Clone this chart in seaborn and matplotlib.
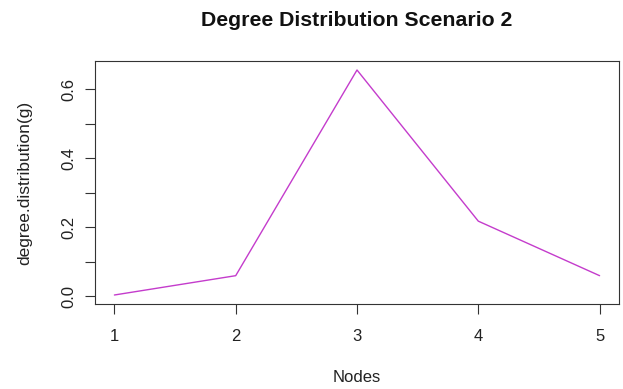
import matplotlib
matplotlib.use("Agg")
import matplotlib.pyplot as plt
import seaborn as sns
import pandas as pd
import numpy as np

nodes = [1, 2, 3, 4, 5]
degree_dist = [0.004, 0.060, 0.656, 0.218, 0.060]
x_ticks = [1, 2, 3, 4, 5]
y_ticks = [0.0, 0.1, 0.2, 0.3, 0.4, 0.5, 0.6]
y_labels = ["0.0", "", "0.2", "", "0.4", "", "0.6"]

sns.set_style("white")
plt.rcParams['font.family'] = ['Liberation Sans', 'DejaVu Sans']

df = pd.DataFrame({"Nodes": nodes, "deg": degree_dist})

L, R, T, B = 95, 619, 61, 304
fig = plt.figure(figsize=(6.23, 3.89), dpi=100)
ax = fig.add_axes([L/623, 1 - B/389, (R - L)/623, (B - T)/389])
sns.lineplot(data=df, x="Nodes", y="deg", ax=ax, color="#C43CCC", linewidth=1.0)

xr = max(nodes) - min(nodes)
ax.set_xlim(min(nodes) - 0.04 * xr, max(nodes) + 0.04 * xr)
yr = max(degree_dist) - min(degree_dist)
ax.set_ylim(min(degree_dist) - 0.04 * yr, max(degree_dist) + 0.04 * yr)

ax.set_xticks(x_ticks)
ax.set_xticklabels([str(v) for v in x_ticks], fontsize=12)
ax.set_yticks(y_ticks)
ax.set_yticklabels(y_labels, fontsize=12, rotation=90, va="center")
ax.tick_params(axis="both", direction="out", length=7, width=0.8, color="#333333",
               bottom=True, left=True, labelcolor="#222222")
ax.tick_params(axis="x", pad=11)
ax.tick_params(axis="y", pad=6.5)
for s in ax.spines.values():
    s.set_visible(True)
    s.set_color("#333333")
    s.set_linewidth(0.8)

ax.set_xlabel("Nodes", fontsize=12, color="#222222", va="center")
ax.xaxis.set_label_coords(0.5, -(378 - B) / (B - T))
ax.set_ylabel("degree.distribution(g)", fontsize=12.5, color="#222222", va="center")
ax.yaxis.set_label_coords(-(L - 25) / (R - L), 0.5)
fig.text((L + R) / 2 / 623, 1 - 20 / 389, "Degree Distribution Scenario 2",
         ha="center", va="center", fontsize=15.3, fontweight="bold", color="#111111")

fig.savefig("out.png", dpi=100, facecolor="white")
